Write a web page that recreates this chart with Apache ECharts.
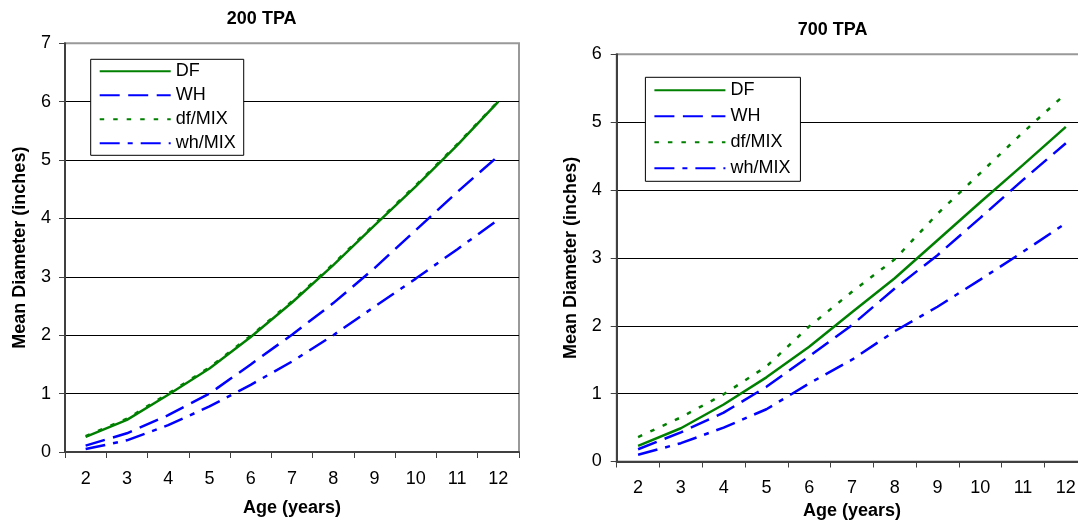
<!DOCTYPE html>
<html>
<head>
<meta charset="utf-8">
<script src="https://cdn.jsdelivr.net/npm/echarts@6/dist/echarts.min.js"></script>
<style>
  html, body { margin: 0; padding: 0; background: #fff; }
  #chart { width: 1078px; height: 522px; }
</style>
</head>
<body>
<div id="chart"></div>
<script>
// Age categories shared by both panels
const ages = ['2', '3', '4', '5', '6', '7', '8', '9', '10', '11', '12'];
const seriesNames = ['DF', 'WH', 'df/MIX', 'wh/MIX'];

// 200 trees per acre: mean diameter (inches)
const df200    = [0.26, 0.55, 0.98, 1.43, 1.97, 2.56, 3.20, 3.88, 4.55, 5.25, 6.00];
const wh200    = [0.11, 0.32, 0.63, 1.00, 1.50, 2.01, 2.55, 3.15, 3.80, 4.45, 5.07];
const dfMix200 = [0.27, 0.57, 1.00, 1.45, 1.99, 2.58, 3.22, 3.90, 4.57, 5.27, 6.01];
const whMix200 = [0.05, 0.20, 0.46, 0.78, 1.15, 1.55, 2.00, 2.49, 2.97, 3.47, 3.98];

// 700 trees per acre: mean diameter (inches)
const df700    = [0.23, 0.49, 0.84, 1.24, 1.69, 2.20, 2.70, 3.26, 3.82, 4.37, 4.93];
const wh700    = [0.18, 0.43, 0.72, 1.10, 1.55, 2.01, 2.55, 3.04, 3.59, 4.15, 4.69];
const dfMix700 = [0.36, 0.65, 0.99, 1.40, 1.99, 2.50, 2.98, 3.65, 4.25, 4.85, 5.42];
const whMix700 = [0.10, 0.27, 0.50, 0.77, 1.15, 1.50, 1.92, 2.28, 2.68, 3.09, 3.51];

// Panel titles and axis ranges
const panelTitles = ['200 TPA', '700 TPA'];
const yMax = [7, 6];

const FONT = '"Liberation Sans", Arial, Helvetica, sans-serif';
const GREEN = '#008000';
const BLUE = '#0000ff';

const lineStyles = {
  'DF':     { color: GREEN, type: 'solid' },
  'WH':     { color: BLUE,  type: [20, 8.5] },
  'df/MIX': { color: GREEN, type: [4.5, 9] },
  'wh/MIX': { color: BLUE,  type: [20, 8, 5, 8] }
};

const panelData = [
  { 'DF': df200, 'WH': wh200, 'df/MIX': dfMix200, 'wh/MIX': whMix200 },
  { 'DF': df700, 'WH': wh700, 'df/MIX': dfMix700, 'wh/MIX': whMix700 }
];

// The right panel runs slightly past the page edge
const grids = [
  { left: 65, top: 43.3, width: 454, height: 408.7 },
  { left: 616.7, top: 54.3, width: 470.5, height: 407.2 }
];

function xAxisFor(i, nameGap) {
  return {
    gridIndex: i,
    type: 'category',
    data: ages,
    boundaryGap: true,
    axisLine: { show: true, lineStyle: { color: '#404040', width: 2 } },
    axisTick: { show: true, length: 6, lineStyle: { color: '#404040', width: 1 } },
    axisLabel: { fontFamily: FONT, fontSize: 18, color: '#000', margin: 18 },
    splitLine: { show: false },
    name: 'Age (years)',
    nameLocation: 'middle',
    nameGap: nameGap,
    nameTextStyle: { fontFamily: FONT, fontSize: 18, fontWeight: 'bold', color: '#000' }
  };
}

function yAxisFor(i, max, nameGap, labelMargin) {
  return {
    gridIndex: i,
    type: 'value',
    min: 0,
    max: max,
    interval: 1,
    axisLine: { show: true, lineStyle: { color: '#404040', width: 2 } },
    axisTick: { show: true, length: 6, lineStyle: { color: '#404040', width: 1 } },
    axisLabel: { fontFamily: FONT, fontSize: 18, color: '#000', margin: labelMargin },
    splitLine: { show: true, showMinLine: false, showMaxLine: false,
                 lineStyle: { color: '#000', width: 1 } },
    name: 'Mean Diameter (inches)',
    nameLocation: 'middle',
    nameGap: nameGap,
    nameTextStyle: { fontFamily: FONT, fontSize: 18, fontWeight: 'bold', color: '#000' }
  };
}

const series = [];
panelData.forEach(function (panel, i) {
  seriesNames.forEach(function (name) {
    const st = lineStyles[name];
    series.push({
      type: 'line',
      name: name,
      xAxisIndex: i,
      yAxisIndex: i,
      data: panel[name],
      symbol: 'none',
      smooth: false,
      clip: false,
      itemStyle: { color: st.color },
      lineStyle: { color: st.color, width: 2.5, type: st.type, cap: 'butt' },
      emphasis: { disabled: true }
    });
  });
});

function legendFor(left, top, padding, gap) {
  return {
    orient: 'vertical',
    left: left,
    top: top,
    padding: padding,
    itemWidth: 71,
    itemHeight: 14,
    itemGap: gap,
    borderColor: '#000',
    borderWidth: 1,
    borderRadius: 0,
    backgroundColor: '#fff',
    selectedMode: false,
    // keep only the line sample in each legend key
    itemStyle: { opacity: 0 },
    textStyle: { fontFamily: FONT, fontSize: 18, color: '#000' },
    data: seriesNames
  };
}

const chart = echarts.init(document.getElementById('chart'), null, { renderer: 'canvas' });
chart.setOption({
  animation: false,
  backgroundColor: '#fff',
  grid: grids.map(function (g) {
    return Object.assign({ show: true, borderColor: '#999', borderWidth: 2,
                           backgroundColor: 'transparent', containLabel: false,
                           outerBoundsMode: 'none' }, g);
  }),
  xAxis: [xAxisFor(0, 47), xAxisFor(1, 41)],
  yAxis: [yAxisFor(0, yMax[0], 36, 14), yAxisFor(1, yMax[1], 37, 15)],
  legend: [
    legendFor(90.7, 59.3, [3, 8, 3, 8], 6),
    legendFor(645.4, 77.3, [4, 10, 4, 8], 8)
  ],
  graphic: [
    { type: 'text', x: 261.7, y: 19,
      style: { text: panelTitles[0], font: 'bold 18px ' + FONT, fill: '#000',
               align: 'center', verticalAlign: 'middle',
               textAlign: 'center', textVerticalAlign: 'middle' } },
    { type: 'text', x: 832.6, y: 30.5,
      style: { text: panelTitles[1], font: 'bold 18px ' + FONT, fill: '#000',
               align: 'center', verticalAlign: 'middle',
               textAlign: 'center', textVerticalAlign: 'middle' } }
  ],
  series: series
});
</script>
</body>
</html>
